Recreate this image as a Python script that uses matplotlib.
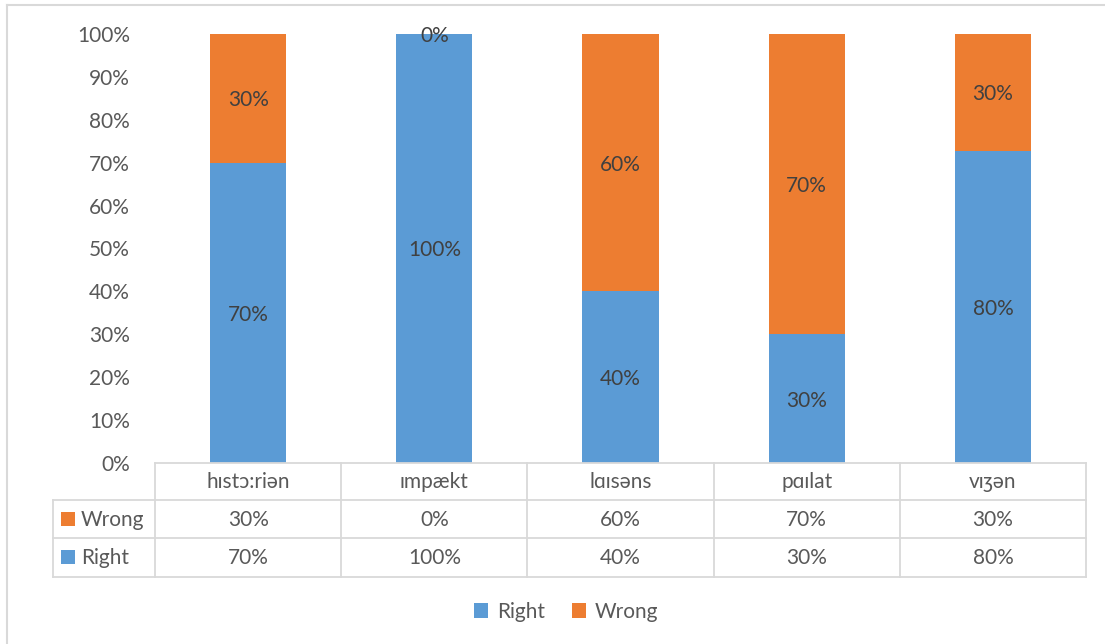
import matplotlib
matplotlib.use('Agg')

import matplotlib.pyplot as plt
from matplotlib.patches import Rectangle
from matplotlib.lines import Line2D
import matplotlib.transforms as mtransforms
import numpy as np

plt.rcParams['font.family'] = ['Lato', 'DejaVu Sans']

# ---------- Data ----------

words = ["hɪstɔ:riən", "ɪmpækt", "lɑɪsəns", "pɑɪlat", "vɪʒən"]
right = [70, 100, 40, 30, 80]
wrong = [30, 0, 60, 70, 30]
series_names = ["Right", "Wrong"]

blue = "#5B9BD5"
orange = "#ED7D31"
grid_col = "#D9D9D9"
tick_col = "#595959"
label_col = "#404040"
fs = 15

W, H = 1105, 644


def fy(py):
    return 1 - py / H


def fx(px):
    return px / W


# ---------- Figure ----------

fig = plt.figure(figsize=(W / 100, H / 100), dpi=100)
ax = fig.add_axes([fx(155), fy(463), fx(1086) - fx(155), fy(34) - fy(463)])

# normalise to 100% stacked
right_arr = np.array(right, dtype=float)
wrong_arr = np.array(wrong, dtype=float)
totals = right_arr + wrong_arr
right_pct = right_arr / totals * 100
wrong_pct = wrong_arr / totals * 100

x = np.arange(len(words))
bw = 0.41
b1 = ax.bar(x, right_pct, bw, color=blue, label=series_names[0])
b2 = ax.bar(x, wrong_pct, bw, bottom=right_pct, color=orange, label=series_names[1])

for i in range(len(words)):
    ax.text(x[i], right_pct[i] / 2, f"{right[i]}%", ha="center", va="center_baseline",
            fontsize=fs, color=label_col)
    ax.text(x[i], right_pct[i] + wrong_pct[i] / 2, f"{wrong[i]}%", ha="center",
            va="center_baseline", fontsize=fs, color=label_col)

ax.set_xlim(-0.5, len(words) - 0.5)
ax.set_ylim(0, 100)
ax.set_yticks(np.arange(0, 101, 10))
ax.set_yticklabels([f"{v}%" for v in range(0, 101, 10)], fontsize=fs, color=tick_col)
ax.tick_params(axis="y", length=0, pad=18)
ax.set_xticks([])
for s in ax.spines.values():
    s.set_visible(False)

# ---------- Data table ----------

tr = mtransforms.blended_transform_factory(ax.transData, fig.transFigure)
ftr = fig.transFigure
lw = 1.3

row_y = [463, 500, 538, 577]
# horizontal lines
fig.add_artist(Line2D([fx(155), fx(1086)], [fy(463), fy(463)], color=grid_col, lw=lw))
for py in row_y[1:]:
    fig.add_artist(Line2D([fx(53), fx(1086)], [fy(py), fy(py)], color=grid_col, lw=lw))
# vertical lines
fig.add_artist(Line2D([fx(53), fx(53)], [fy(500), fy(577)], color=grid_col, lw=lw))
for i in range(len(words) + 1):
    xb = i - 0.5
    fig.add_artist(Line2D([xb, xb], [fy(463), fy(577)], color=grid_col, lw=lw, transform=tr))

for i, w in enumerate(words):
    fig.text(x[i], fy(482), w, transform=tr, ha="center", va="center",
             fontsize=fs, color=tick_col)
    fig.text(x[i], fy(520), f"{wrong[i]}%", transform=tr, ha="center", va="center",
             fontsize=fs, color=tick_col)
    fig.text(x[i], fy(558), f"{right[i]}%", transform=tr, ha="center", va="center",
             fontsize=fs, color=tick_col)

# row headers with swatches
for name, col, py in [("Wrong", orange, 519), ("Right", blue, 557)]:
    fig.add_artist(Rectangle((fx(61), fy(py + 7)), fx(14), fy(py - 7) - fy(py + 7),
                             facecolor=col, edgecolor="none", transform=ftr))
    fig.text(fx(81), fy(py + 1), name, ha="left", va="center", fontsize=fs, color=tick_col)

# ---------- Legend ----------

leg = fig.legend(handles=[b1, b2], labels=series_names, loc="center",
                 bbox_to_anchor=(fx(566), fy(612)), ncol=2, frameon=False,
                 fontsize=fs, handlelength=0.7, handleheight=0.7,
                 handletextpad=0.4, columnspacing=1.3)
for t in leg.get_texts():
    t.set_color(tick_col)

# ---------- Outer border ----------

fig.add_artist(Line2D([fx(7), fx(7)], [fy(5), 0], color=grid_col, lw=1.5))
fig.add_artist(Line2D([fx(7), 1], [fy(5), fy(5)], color=grid_col, lw=1.5))

fig.savefig("out.png", dpi=100)
